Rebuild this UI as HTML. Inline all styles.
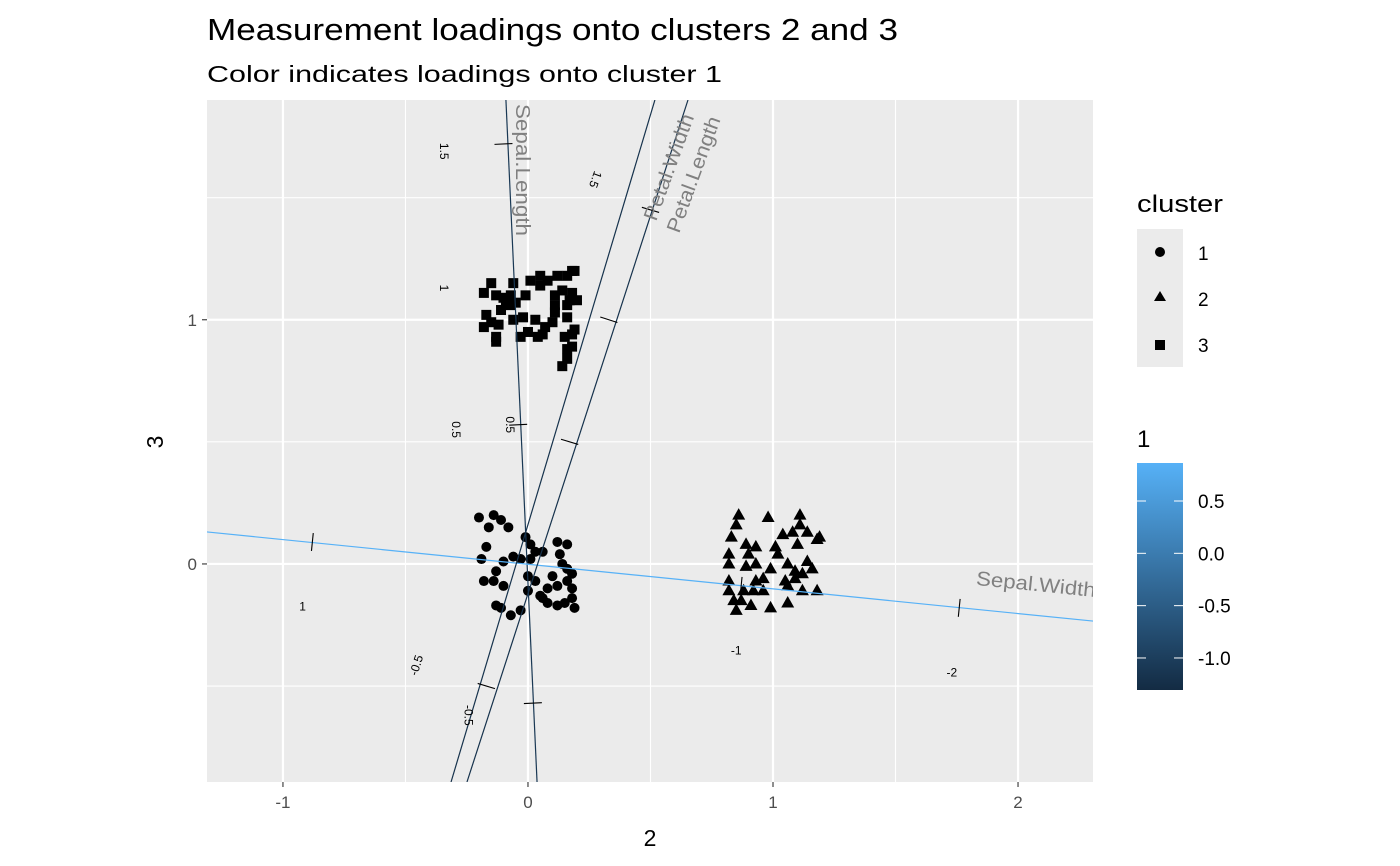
<!DOCTYPE html>
<html><head><meta charset="utf-8">
<style>
html,body{margin:0;padding:0;background:#fff;}
svg{display:block;font-family:"Liberation Sans",Arial,sans-serif;}
</style></head>
<body>
<svg id="chart" width="1400" height="866" viewBox="0 0 1400 866" xmlns="http://www.w3.org/2000/svg">
<defs>
<linearGradient id="cbar" x1="0" y1="1" x2="0" y2="0">
<stop offset="0" stop-color="#132B43"/><stop offset="1" stop-color="#56B1F7"/>
</linearGradient>
</defs>
<text x="207" y="40" font-size="31" textLength="691" lengthAdjust="spacingAndGlyphs" fill="#000">Measurement loadings onto clusters 2 and 3</text>
<text x="207" y="82" font-size="23" textLength="515" lengthAdjust="spacingAndGlyphs" fill="#000">Color indicates loadings onto cluster 1</text>
<g id="panel"></g>
<text x="650" y="846" font-size="23" text-anchor="middle">2</text>
<text transform="translate(163,442) rotate(-90)" font-size="23" text-anchor="middle">3</text>
<g>
<text x="1137" y="212" font-size="24" textLength="86" lengthAdjust="spacingAndGlyphs">cluster</text>
<rect x="1137" y="229" width="46" height="138" fill="#EBEBEB"/>
<circle cx="1160" cy="252" r="5"/>
<polygon points="1160,291 1166,301 1154,301"/>
<rect x="1155" y="340" width="10" height="10"/>
<text x="1198" y="260" font-size="19">1</text>
<text x="1198" y="306" font-size="19">2</text>
<text x="1198" y="352" font-size="19">3</text>
</g>
<g id="clegend">
<text x="1137" y="447" font-size="24">1</text>
<rect x="1137" y="463" width="46" height="227" fill="url(#cbar)"/>
</g>
</svg>
<script>
// axis ranges
const xDomain = [-1.31, 2.306];
const yDomain = [-0.893, 1.90];
const xTicks = [-1, 0, 1, 2];
const yTicks = [0, 1];
const xMinor = [-0.5, 0.5, 1.5];
const yMinor = [-0.5, 0.5, 1.5];
// cluster points [x (dim 2), y (dim 3)]
const cluster1 = [[-0.20,0.19],[-0.14,0.20],[-0.11,0.18],[-0.16,0.15],[-0.08,0.15],[-0.17,0.07],[-0.19,0.02],[-0.10,0.01],[-0.13,-0.03],[-0.14,-0.07],[-0.10,-0.09],[-0.18,-0.07],[-0.06,0.03],[-0.03,0.02],[0.01,0.02],[-0.01,0.11],[0.01,0.08],[0,-0.05],[0,-0.11],[0.03,0.05],[0.06,0.05],[0.12,0.09],[0.16,0.08],[0.13,0.04],[0.14,0],[0.16,-0.02],[0.18,-0.04],[0.18,-0.10],[0.16,-0.07],[0.10,-0.05],[0.08,-0.10],[0.05,-0.13],[0.08,-0.16],[0.12,-0.17],[0.15,-0.16],[0.19,-0.18],[0.18,-0.14],[0.06,-0.14],[-0.13,-0.17],[-0.11,-0.18],[-0.07,-0.21],[-0.03,-0.19],[0.12,-0.09],[0.03,-0.07]];
const cluster2 = [[0.86,0.20],[0.85,0.16],[0.83,0.11],[0.98,0.19],[1.11,0.20],[1.11,0.16],[1.08,0.13],[1.04,0.12],[1.14,0.13],[1.19,0.11],[1.18,0.10],[1.10,0.08],[0.89,0.08],[0.93,0.07],[0.90,0.04],[1.01,0.07],[1.02,0.04],[0.82,0.04],[0.82,0],[0.89,-0.01],[0.93,0],[0.99,-0.02],[1.06,0],[1.14,0.01],[1.16,-0.02],[1.09,-0.03],[0.96,-0.06],[0.93,-0.07],[1.05,-0.07],[1.09,-0.06],[1.06,-0.09],[1.12,-0.04],[0.82,-0.07],[0.82,-0.11],[0.84,-0.15],[0.87,-0.15],[0.88,-0.11],[0.92,-0.11],[0.96,-0.11],[1.12,-0.11],[1.18,-0.11],[1.06,-0.16],[0.99,-0.18],[0.85,-0.19],[0.91,-0.17]];
const cluster3 = [[-0.15,1.15],[-0.18,1.11],[-0.13,1.10],[-0.10,1.09],[-0.09,1.07],[-0.11,1.04],[-0.17,1.02],[-0.15,0.99],[-0.18,0.97],[-0.13,0.93],[-0.13,0.91],[-0.06,1.15],[-0.07,1.10],[0.01,1.16],[0.05,1.14],[0.08,1.16],[0.12,1.18],[0.16,1.18],[0.18,1.20],[0.19,1.20],[0.11,1.10],[0.14,1.12],[0.18,1.11],[0.20,1.08],[0.16,1.06],[0.16,1.01],[0.10,0.99],[0.07,0.97],[-0.02,1.01],[0.03,1.00],[0.06,0.94],[-0.03,0.93],[-0.06,1.00],[0,0.95],[0.04,0.93],[0.15,0.93],[0.18,0.94],[0.16,0.88],[0.16,0.84],[0.14,0.81],[0.18,0.89],[-0.07,1.06],[0.05,1.18],[-0.01,1.10],[-0.05,1.07],[-0.12,0.98],[0.19,0.96],[0.17,1.08],[0.11,1.06],[0.11,1.03]];
// calibrated measurement axes: names, endpoints (data units), loading on cluster 1
const axisNames = ["Sepal.Length","Sepal.Width","Petal.Length","Petal.Width"];
const axisStart = [[-0.09,1.90],[-1.31,0.131],[0.653,1.90],[0.518,1.90]];
const axisEnd = [[0.037,-0.893],[2.306,-0.234],[-0.249,-0.893],[-0.314,-0.893]];
const axisLoad1 = [-1.1,0.86,-1.2,-1.2];
// calibration ticks: axis index, position (data), label, label position (data)
const calTickAxis = [0,0,0,1,1,1,3,3,3,2];
const calTickPos = [[-0.1,1.72],[-0.04,0.57],[0.02,-0.57],[-0.88,0.09],[0.87,-0.09],[1.76,-0.18],[-0.17,-0.5],[0.17,0.5],[0.50,1.45],[0.33,1.0]];
const calTickLabel = ["1.5","0.5","-0.5","1","-1","-2","-0.5","0.5","1.5","1"];
const calLabelPos = [[-0.36,1.69],[-0.31,0.55],[-0.26,-0.62],[-0.92,-0.19],[0.85,-0.37],[1.73,-0.46],[-0.44,-0.42],[-0.09,0.57],[0.26,1.58],[-0.36,1.13]];
const calLabelRot = [90,90,90,0,0,0,-72,90,110,90];
// colour scale
const colorDomain = [-1.306, 0.863];
const colorTicks = [0.5, 0.0, -0.5, -1.0];
const colorTickLabels = ["0.5","0.0","-0.5","-1.0"];

const P = {l:207, r:1093, t:100, b:782};
const sx = v => P.l + (v - xDomain[0]) / (xDomain[1]-xDomain[0]) * (P.r-P.l);
const sy = v => P.b - (v - yDomain[0]) / (yDomain[1]-yDomain[0]) * (P.b-P.t);
const NS = "http://www.w3.org/2000/svg";
const svg = document.getElementById('chart');
const panel = document.getElementById('panel');
function mk(tag, attrs, parent){ const e=document.createElementNS(NS,tag); for(const k in attrs) e.setAttribute(k,attrs[k]); (parent||panel).appendChild(e); return e; }
function lerpColor(v){
  const t = Math.max(0,Math.min(1,(v-colorDomain[0])/(colorDomain[1]-colorDomain[0])));
  const a=[0x13,0x2B,0x43], b=[0x56,0xB1,0xF7];
  return 'rgb('+a.map((c,i)=>Math.round(c+(b[i]-c)*t)).join(',')+')';
}
let bg = mk('rect',{x:P.l,y:P.t,width:P.r-P.l,height:P.b-P.t,fill:'#EBEBEB'});
 
xMinor.forEach(v=>{ const l=mk('line',{x1:sx(v),x2:sx(v),y1:P.t,y2:P.b,stroke:'#fff','stroke-width':1.1});
 });
yMinor.forEach(v=>{ const l=mk('line',{x1:P.l,x2:P.r,y1:sy(v),y2:sy(v),stroke:'#fff','stroke-width':1.1});
 });
xTicks.forEach(v=>{ const l=mk('line',{x1:sx(v),x2:sx(v),y1:P.t,y2:P.b,stroke:'#fff','stroke-width':2.2});
 
const tk=mk('line',{x1:sx(v),x2:sx(v),y1:P.b,y2:P.b+5,stroke:'#333','stroke-width':1.1},svg);
 
const t=mk('text',{x:sx(v),y:P.b+26,'font-size':17,fill:'#4D4D4D','text-anchor':'middle'},svg); t.textContent=String(v);
 });
yTicks.forEach(v=>{ const l=mk('line',{x1:P.l,x2:P.r,y1:sy(v),y2:sy(v),stroke:'#fff','stroke-width':2.2});
 
const tk=mk('line',{x1:P.l-5,x2:P.l,y1:sy(v),y2:sy(v),stroke:'#333','stroke-width':1.1},svg);
 
const t=mk('text',{x:P.l-10,y:sy(v)+6,'font-size':17,fill:'#4D4D4D','text-anchor':'end'},svg); t.textContent=String(v);
 });

// clip
const cp = mk('clipPath',{id:'pclip'}); mk('rect',{x:P.l,y:P.t,width:P.r-P.l,height:P.b-P.t},cp);
const g = mk('g',{'clip-path':'url(#pclip)'});
 

// points
cluster1.forEach(p=>{ const c=mk('circle',{cx:sx(p[0]),cy:sy(p[1]),r:5,fill:'#000'},g);
 });
cluster2.forEach(p=>{ const x=sx(p[0]),y=sy(p[1]); const c=mk('polygon',{points:`${x},${y-7} ${x+6.5},${y+4.5} ${x-6.5},${y+4.5}`,fill:'#000'},g);
 });
cluster3.forEach(p=>{ const c=mk('rect',{x:sx(p[0])-5,y:sy(p[1])-5,width:10,height:10,fill:'#000'},g);
 });

// measurement axes
axisNames.forEach((n,i)=>{
  const l=mk('line',{x1:sx(axisStart[i][0]),y1:sy(axisStart[i][1]),x2:sx(axisEnd[i][0]),y2:sy(axisEnd[i][1]),stroke:lerpColor(axisLoad1[i]),'stroke-width':1.2},g);
   
});
// cal ticks
calTickPos.forEach((p,i)=>{
  const a=calTickAxis[i]; const dx=sx(axisEnd[a][0])-sx(axisStart[a][0]), dy=sy(axisEnd[a][1])-sy(axisStart[a][1]);
  const L=Math.hypot(dx,dy); const nx=-dy/L*9, ny=dx/L*9; const x=sx(p[0]), y=sy(p[1]);
  const t=mk('line',{x1:x-nx,y1:y-ny,x2:x+nx,y2:y+ny,stroke:'#000','stroke-width':1.1},g);
   
  const lx=sx(calLabelPos[i][0]), ly=sy(calLabelPos[i][1]);
  const tx=mk('text',{x:lx,y:ly,'font-size':12,'text-anchor':'middle',transform:`rotate(${calLabelRot[i]} ${lx} ${ly})`},g);
  tx.textContent=calTickLabel[i];
   
});
// axis name labels
const nameLabels=[[516,104,90,'start',132],[1095,597,5.8,'end',120],[679,234,-70,'start',122],[656,222,-70,'start',112]];
nameLabels.forEach((nl,i)=>{
  const t=mk('text',{x:nl[0],y:nl[1],'font-size':20,fill:'#808080','text-anchor':nl[3],textLength:nl[4],lengthAdjust:'spacingAndGlyphs',transform:`rotate(${nl[2]} ${nl[0]} ${nl[1]})`},g);
  t.textContent=axisNames[i];
   
});
// colour legend ticks
const cl=document.getElementById('clegend');
const cy = v => 690 - (v-colorDomain[0])/(colorDomain[1]-colorDomain[0])*227;
colorTicks.forEach((v,i)=>{
  const y=cy(v);
  const a=mk('line',{x1:1137,x2:1146,y1:y,y2:y,stroke:'#fff','stroke-width':1},cl);
   
  const b=mk('line',{x1:1174,x2:1183,y1:y,y2:y,stroke:'#fff','stroke-width':1},cl);
   
  const t=mk('text',{x:1198,y:y+7,'font-size':19},cl); t.textContent=colorTickLabels[i];
   
});
</script>
</body></html>
